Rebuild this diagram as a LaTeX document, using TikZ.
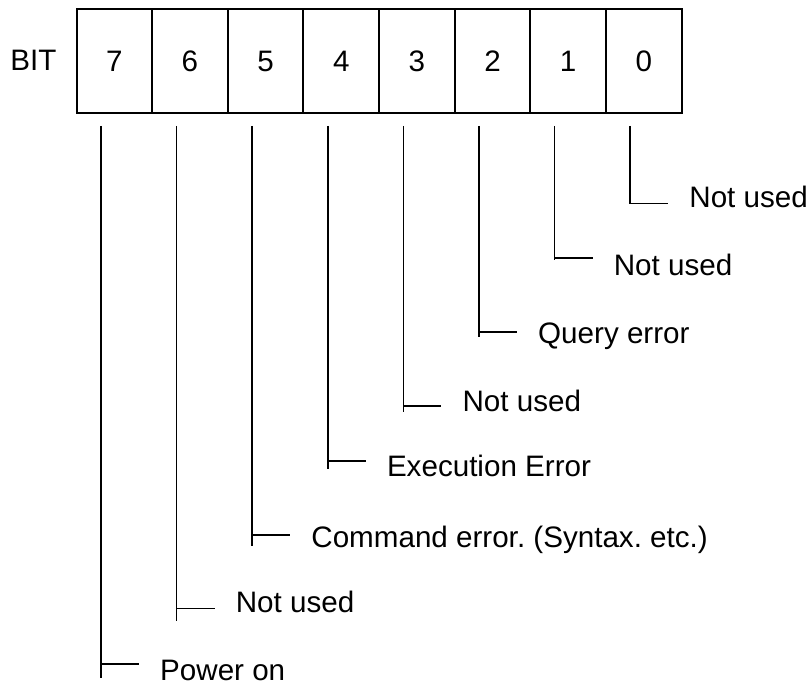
\documentclass[tikz,border=0pt]{standalone}
\usepackage{fontspec}
\setmainfont{Liberation Sans}
\frenchspacing
\begin{document}
\begin{tikzpicture}[x=1pt,y=-1pt,
  txt/.style={inner sep=0pt,font=\fontsize{29.6pt}{35pt}\selectfont},
  cellbox/.style={draw,line width=2pt,minimum width=75.65pt,minimum height=104pt,inner sep=0pt,anchor=north west},
  lead/.style={line width=1.6pt}]
\useasboundingbox (0,0) rectangle (809,687);
% BIT label
\node[txt,anchor=base] (bit) at (33.5,70.6) {BIT};
% cells
\foreach \k in {7,...,0}{
  \pgfmathsetmacro{\xl}{75.5+75.65*(7-\k)}
  \node[cellbox] (c\k) at (\xl,8) {};
  \node[txt,anchor=base] (d\k) at ([yshift=-10.6pt]c\k.center) {\k};
}
% leaders
\foreach \k/\ye/\yt/\yc/\lab in {0/204/203.5/196.6/{Not used},
  1/260/258/264.5/{Not used},
  2/337/332/332.5/{Query error},
  3/412/405.7/400.5/{Not used},
  4/469/460.7/466/{Execution Error},
  5/545.5/535/537/{Command error. (Syntax. etc.)},
  6/621/608.3/601.5/{Not used},
  7/678/664/669.5/{Power on}}{
  \pgfmathsetmacro{\xk}{101+75.6*(7-\k)}
  \coordinate (top\k) at (\xk,126);
  \coordinate (end\k) at (\xk,\ye);
  \coordinate (corner\k) at (\xk,\yt);
  \coordinate (tick\k) at (\xk+38,\yt);
  \node[txt,anchor=base west] (lab\k) at (\xk+59,\yc+10.6) {\lab};
  \draw[lead] (top\k) -- (end\k);
  \draw[lead] (corner\k) -- (tick\k);
}
\end{tikzpicture}
\end{document}
